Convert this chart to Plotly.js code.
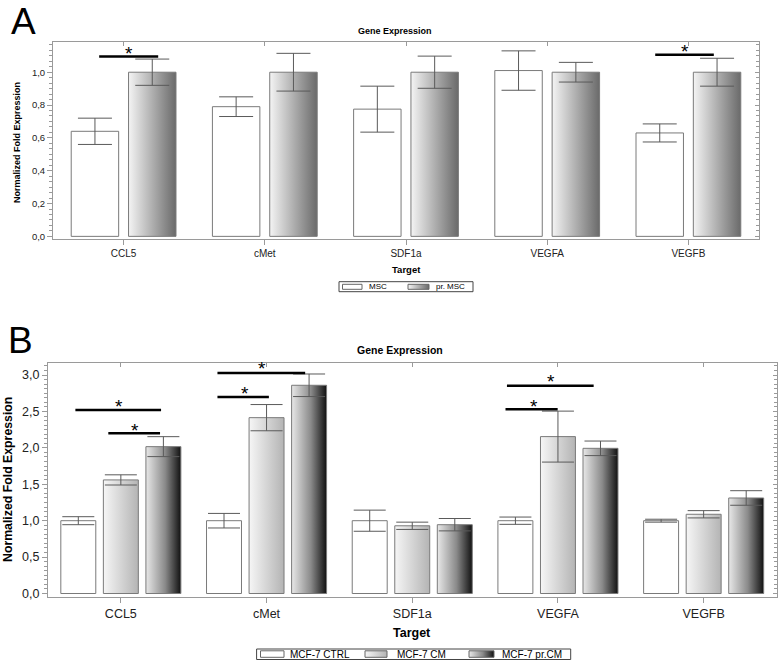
<!DOCTYPE html>
<html>
<head>
<meta charset="utf-8">
<script src="https://cdn.plot.ly/plotly-3.0.1.min.js"></script>
<style>html,body{margin:0;padding:0;background:#fff;}#chart{width:778px;height:661px;}</style>
</head>
<body>
<svg width="0" height="0" style="position:absolute">
  <defs>
    <linearGradient id="gradPrMSC" x1="0" y1="0" x2="1" y2="0">
      <stop offset="0" stop-color="#f4f4f4"/><stop offset="1" stop-color="#6a6a6a"/>
    </linearGradient>
    <linearGradient id="gradCM" x1="0" y1="0" x2="1" y2="0">
      <stop offset="0" stop-color="#f6f6f6"/><stop offset="1" stop-color="#b4b4b4"/>
    </linearGradient>
    <linearGradient id="gradPrCM" x1="0" y1="0" x2="1" y2="0">
      <stop offset="0" stop-color="#e8e8e8"/><stop offset="0.55" stop-color="#8a8a8a"/><stop offset="1" stop-color="#111111"/>
    </linearGradient>
  </defs>
</svg>
<div id="chart"></div>
<script>
// ---- data ----
var categories = ['CCL5', 'cMet', 'SDF1a', 'VEGFA', 'VEGFB'];

// Panel A
var seriesA   = ['MSC', 'pr. MSC'];
var mscVals   = [0.64, 0.79, 0.775, 1.01, 0.63];
var mscErr    = [0.08, 0.06, 0.14, 0.12, 0.055];
var prMscVals = [1.0, 1.0, 1.0, 1.0, 1.0];
var prMscErr  = [0.08, 0.115, 0.098, 0.06, 0.085];

// Panel B
var seriesB   = ['MCF-7 CTRL', 'MCF-7 CM', 'MCF-7 pr.CM'];
var ctrlVals  = [1.0, 1.0, 1.0, 1.0, 1.0];
var ctrlErr   = [0.055, 0.10, 0.145, 0.05, 0.02];
var cmVals    = [1.56, 2.415, 0.93, 2.155, 1.088];
var cmErr     = [0.07, 0.18, 0.05, 0.35, 0.05];
var prCmVals  = [2.017, 2.86, 0.945, 1.994, 1.312];
var prCmErr   = [0.137, 0.155, 0.085, 0.10, 0.10];

var yTicksA = [0, 0.2, 0.4, 0.6, 0.8, 1.0];
var yTicksB = [0, 0.5, 1.0, 1.5, 2.0, 2.5, 3.0];

// significance brackets [x0, x1, y, starX, starY]
var sigA = [[-0.173, 0.245, 1.096, 0.037, 1.141], [3.765, 4.18, 1.107, 3.977, 1.15]];
var sigB = [[-0.312, 0.276, 2.52, -0.014, 2.62], [-0.086, 0.269, 2.20, 0.095, 2.29],
            [0.663, 1.265, 3.03, 0.972, 3.14], [0.663, 1.016, 2.70, 0.853, 2.80],
            [2.65, 3.245, 2.855, 2.95, 2.96], [2.64, 2.998, 2.53, 2.836, 2.63]];

// ---- style ----
var W = 778, H = 661;
var FONT = 'Liberation Sans, Arial, sans-serif';
var AXC = '#9a9a9a';
var outline = {color: '#7a7a7a', width: 1};
function errs(arr, w) {
  return {type: 'data', array: arr, visible: true, color: '#5a5a5a', thickness: 1, width: w};
}
function bar(name, vals, err, xa, ya, off, wid, fill, meta, ew) {
  return {type: 'bar', name: name, x: categories, y: vals, xaxis: xa, yaxis: ya,
          offset: off, width: wid, marker: {color: fill, line: outline},
          error_y: errs(err, ew), meta: meta, showlegend: false, hoverinfo: 'skip'};
}
function dummy(xa, ya) {
  return {type: 'scatter', mode: 'markers', x: categories, y: categories.map(function(){return null;}),
          xaxis: xa, yaxis: ya, showlegend: false, hoverinfo: 'skip'};
}

var data = [
  bar(seriesA[0], mscVals, mscErr, 'x', 'y', -0.371, 0.336, '#ffffff', 'none', 17),
  bar(seriesA[1], prMscVals, prMscErr, 'x', 'y', 0.035, 0.336, '#aaaaaa', 'gradPrMSC', 17),
  bar(seriesB[0], ctrlVals, ctrlErr, 'x2', 'y2', -0.412, 0.24, '#ffffff', 'none', 16),
  bar(seriesB[1], cmVals, cmErr, 'x2', 'y2', -0.12, 0.24, '#d0d0d0', 'gradCM', 16),
  bar(seriesB[2], prCmVals, prCmErr, 'x2', 'y2', 0.172, 0.24, '#777777', 'gradPrCM', 16),
  dummy('x3', 'y'), dummy('x', 'y3'), dummy('x4', 'y2'), dummy('x2', 'y4')
];

var domXA = [53/W, 759/W], domYA = [1 - 239/H, 1 - 42/H];
var domXB = [48/W, 776.5/W], domYB = [1 - 596.7/H, 1 - 362.7/H];
var rangeYA = [-0.016, 1.184], rangeYB = [-0.044, 3.17];

function xAxis(dom, anchor, fs) {
  return {domain: dom, anchor: anchor, type: 'category', categoryarray: categories, range: [-0.5, 4.5],
          showline: true, linecolor: AXC, linewidth: 1, mirror: true, ticks: 'outside', ticklen: 5,
          tickcolor: AXC, showgrid: false, zeroline: false, tickfont: {family: FONT, size: fs, color: '#222'},
          fixedrange: true};
}
function xTop(over, anchor) {
  return {overlaying: over, anchor: anchor, side: 'top', type: 'category', categoryarray: categories,
          range: [-0.5, 4.5], showline: false, ticks: 'inside', ticklen: 4, tickcolor: AXC,
          showticklabels: false, showgrid: false, zeroline: false};
}
function yAxis(dom, anchor, rng, tv, minorD, fs) {
  return {domain: dom, anchor: anchor, range: rng, tickvals: tv, showline: true, linecolor: AXC, linewidth: 1,
          mirror: true, ticks: 'outside', ticklen: 5, tickcolor: AXC, showgrid: false, zeroline: false,
          tickformat: '.1f', tickfont: {family: FONT, size: fs, color: '#222'},
          minor: {dtick: minorD, tick0: 0, ticks: 'outside', ticklen: 3, tickcolor: AXC, showgrid: false}};
}
function yRight(over, anchor, rng, tv, minorD) {
  return {overlaying: over, anchor: anchor, side: 'right', range: rng, tickvals: tv, showline: false,
          ticks: 'inside', ticklen: 4, tickcolor: AXC, showticklabels: false, showgrid: false, zeroline: false,
          minor: {dtick: minorD, tick0: 0, ticks: 'inside', ticklen: 3, tickcolor: AXC, showgrid: false}};
}

var shapes = [], annotations = [], gradShapes = {};
function addSig(list, xr, yr) {
  list.forEach(function(s) {
    shapes.push({type: 'line', xref: xr, yref: yr, x0: s[0], x1: s[1], y0: s[2], y1: s[2],
                 line: {color: '#000', width: 2.5}});
    annotations.push({xref: xr, yref: yr, x: s[3], y: s[4], text: '*', showarrow: false,
                      font: {family: FONT, size: 19, color: '#000'}, yanchor: 'middle', yshift: -4});
  });
}
addSig(sigA, 'x', 'y');
addSig(sigB, 'x2', 'y2');

function txt(t, x, y, size, bold, rot, xanchor, yanchor) {
  annotations.push({xref: 'paper', yref: 'paper', x: x / W, y: 1 - y / H, text: bold ? '<b>' + t + '</b>' : t,
                    showarrow: false, xanchor: xanchor || 'center', yanchor: yanchor || 'middle',
                    textangle: rot || 0, borderpad: 0,
                    font: {family: FONT, size: size, color: '#000'}});
}
function rect(x0, y0, x1, y1, fill, lineColor, grad) {
  if (grad) gradShapes[shapes.length] = grad;
  shapes.push({type: 'rect', xref: 'paper', yref: 'paper', x0: x0 / W, x1: x1 / W, y0: 1 - y0 / H, y1: 1 - y1 / H,
               fillcolor: fill, line: {color: lineColor, width: 1}, layer: 'above'});
}

txt('A', 23, 0, 37, false, 0, 'center', 'top');
txt('B', 20, 340, 37, false);
txt('Gene Expression', 395, 31, 9, true);
txt('Gene Expression', 400, 350, 10.5, true);
txt('Target', 406, 269, 9.5, true);
txt('Target', 412, 633, 12.5, true);
txt('Normalized Fold Expression', 17, 143, 9, true, -90);
txt('Normalized Fold Expression', 8, 480, 12.3, true, -90);

// custom compact legends (frame, swatches, labels)
rect(339, 281.7, 473, 291.7, '#ffffff', '#444444');
rect(342.5, 284.3, 362, 289.3, '#ffffff', '#666666');
txt(seriesA[0], 368, 286.7, 8, false, 0, 'left');
rect(408, 284.3, 429, 289.3, '#aaaaaa', '#666666', 'gradPrMSC');
txt(seriesA[1], 435, 286.7, 8, false, 0, 'left');

rect(256.6, 649, 570.7, 659.5, '#ffffff', '#444444');
rect(260.5, 650.8, 284, 657.3, '#ffffff', '#666666');
txt(seriesB[0], 289, 654.3, 10, false, 0, 'left');
rect(365, 650.8, 387, 657.3, '#d0d0d0', '#666666', 'gradCM');
txt(seriesB[1], 395.5, 654.3, 10, false, 0, 'left');
rect(469, 650.8, 494, 657.3, '#777777', '#666666', 'gradPrCM');
txt(seriesB[2], 501, 654.3, 10, false, 0, 'left');

var layout = {
  width: W, height: H, margin: {l: 0, r: 0, t: 0, b: 0, autoexpand: false},
  paper_bgcolor: '#fff', plot_bgcolor: '#fff', separators: ',.',
  barmode: 'overlay', showlegend: false,
  xaxis: xAxis(domXA, 'y', 10), yaxis: yAxis(domYA, 'x', rangeYA, yTicksA, 0.2/6, 9.5),
  xaxis2: xAxis(domXB, 'y2', 12.5), yaxis2: yAxis(domYB, 'x2', rangeYB, yTicksB, 0.0625, 12.5),
  xaxis3: xTop('x', 'y'), yaxis3: yRight('y', 'x', rangeYA, yTicksA, 0.2/6),
  xaxis4: xTop('x2', 'y2'), yaxis4: yRight('y2', 'x2', rangeYB, yTicksB, 0.0625),
  shapes: shapes, annotations: annotations
};

function applyGradients() {
  document.querySelectorAll('g.trace.bars').forEach(function(g) {
    var d = g.__data__; var tr = d && d[0] && d[0].trace;
    if (tr && tr.meta && tr.meta !== 'none') {
      g.querySelectorAll('path').forEach(function(p) { p.style.fill = 'url(#' + tr.meta + ')'; });
    }
  });
  document.querySelectorAll('.shapelayer path[data-index]').forEach(function(p) {
    var i = +p.getAttribute('data-index');
    if (gradShapes[i]) p.style.fill = 'url(#' + gradShapes[i] + ')';
  });
}
Plotly.newPlot('chart', data, layout, {staticPlot: true, displayModeBar: false}).then(applyGradients);
</script>
</body>
</html>
